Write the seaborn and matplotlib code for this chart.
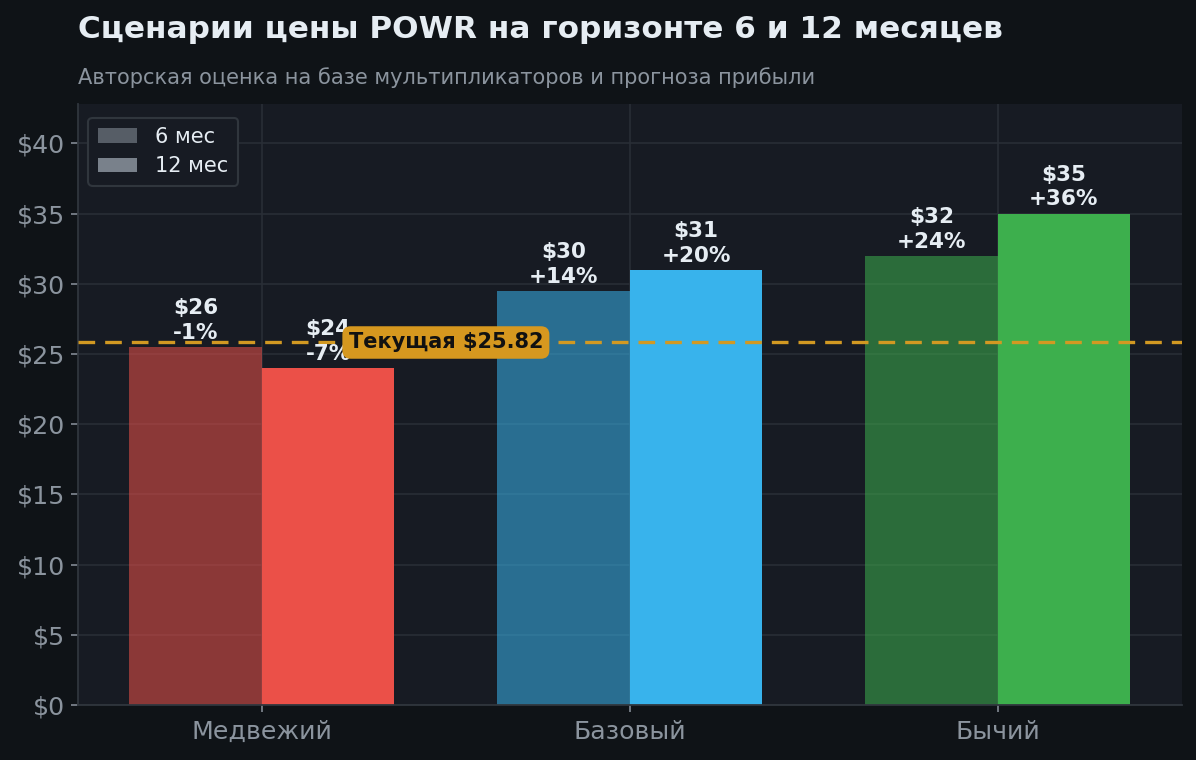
import matplotlib
matplotlib.use("Agg")
import matplotlib.pyplot as plt
from matplotlib.patches import Patch
from matplotlib.ticker import FuncFormatter
import seaborn as sns
import pandas as pd

# ---- data ----
scenarios = ["Медвежий", "Базовый", "Бычий"]
horizons = ["6 мес", "12 мес"]
price_6m = [25.5, 29.5, 32.0]
price_12m = [24.0, 31.0, 35.0]
current_price = 25.82
scenario_colors = ["#EB5048", "#38B3EC", "#3DAF4D"]
title = "Сценарии цены POWR на горизонте 6 и 12 месяцев"
subtitle = "Авторская оценка на базе мультипликаторов и прогноза прибыли"

BG = "#0F1317"
AX_BG = "#171B23"
TEXT = "#E6EDF3"
MUTED = "#8B949E"
GRID = "#2A2F37"
SPINE = "#30363D"
GOLD = "#D29922"

df = pd.DataFrame({
    "scenario": scenarios * 2,
    "horizon": [horizons[0]] * 3 + [horizons[1]] * 3,
    "price": price_6m + price_12m,
})

sns.set_theme(style="dark")
plt.rcParams["font.family"] = ["DejaVu Sans"]

fig = plt.figure(figsize=(11.96, 7.6), dpi=100, facecolor=BG)
ax = fig.add_axes([0.0652, 0.0724, 0.9228, 0.7906])
ax.set_facecolor(AX_BG)

sns.barplot(data=df, x="scenario", y="price", hue="horizon", hue_order=horizons,
            order=scenarios, width=0.72, saturation=1, legend=False, ax=ax, zorder=2)

alphas = [0.55, 1.0]
for hi, cont in enumerate(ax.containers):
    for ci, bar in enumerate(cont):
        bar.set_facecolor(scenario_colors[ci])
        bar.set_alpha(alphas[hi])
        bar.set_edgecolor("none")
        val = bar.get_height()
        pct = (val / current_price - 1) * 100
        ax.annotate(f"${val:.0f}\n{pct:+.0f}%",
                    xy=(bar.get_x() + bar.get_width() / 2, val),
                    xytext=(0, 3), textcoords="offset points",
                    ha="center", va="bottom", color=TEXT,
                    fontsize=15.5, fontweight="bold", zorder=4, linespacing=1.28)

ax.axhline(current_price, color=GOLD, linestyle=(0, (5, 3)), linewidth=2.4, zorder=3)
ax.text(0.5, current_price, f"Текущая ${current_price:.2f}", ha="center", va="center",
        fontsize=15, fontweight="bold", color="#111111", zorder=5,
        bbox=dict(boxstyle="round,pad=0.3,rounding_size=0.4", facecolor="#D6981F",
                  edgecolor="none", alpha=1.0))

ax.set_xlim(-0.5, 2.5)
ax.set_ylim(0, 42.8)
ax.set_yticks(range(0, 41, 5))
ax.yaxis.set_major_formatter(FuncFormatter(lambda v, p: f"${v:.0f}"))
ax.set_xlabel("")
ax.set_ylabel("")

ax.grid(True, color=GRID, linewidth=1.1, zorder=0)
ax.set_axisbelow(True)
for s in ["top", "right"]:
    ax.spines[s].set_visible(False)
for s in ["left", "bottom"]:
    ax.spines[s].set_visible(True)
    ax.spines[s].set_color(SPINE)
    ax.spines[s].set_linewidth(1.3)
ax.tick_params(axis="both", colors=MUTED, labelsize=18.2, length=5, width=1.1,
               labelcolor=MUTED, bottom=True, left=True)
ax.tick_params(axis="y", pad=4.5)
ax.tick_params(axis="x", pad=6)

handles = [Patch(facecolor=MUTED, edgecolor="none", alpha=0.55, label=horizons[0]),
           Patch(facecolor=MUTED, edgecolor="none", alpha=0.85, label=horizons[1])]
leg = ax.legend(handles=handles, loc="upper left", fontsize=15, frameon=True,
                facecolor=AX_BG, edgecolor=SPINE, labelcolor=TEXT,
                borderpad=0.45, handlelength=1.9, handletextpad=0.85, labelspacing=0.45,
                bbox_to_anchor=(0.0, 0.995))
leg.get_frame().set_linewidth(1.5)
leg.get_frame().set_alpha(1)

fig.text(0.0652, 0.980, title, ha="left", va="top", fontsize=22.4,
         fontweight="bold", color=TEXT)
fig.text(0.0652, 0.911, subtitle, ha="left", va="top", fontsize=15.1, color=MUTED)

fig.savefig("out.png", dpi=100, facecolor=BG)
